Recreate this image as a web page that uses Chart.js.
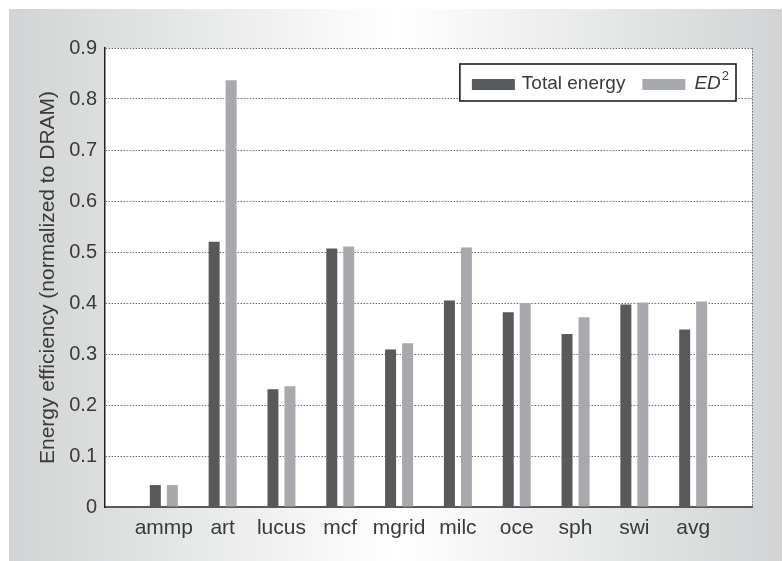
<!DOCTYPE html>
<html>
<head>
<meta charset="utf-8">
<script src="https://cdn.jsdelivr.net/npm/chart.js@4.4.0/dist/chart.umd.min.js"></script>
<style>
html,body{margin:0;padding:0;background:#ffffff;}
canvas{display:block;}
</style>
</head>
<body>
<canvas id="c" width="783" height="561"></canvas>
<script>
const categories = ['ammp','art','lucus','mcf','mgrid','milc','oce','sph','swi','avg'];
const totalEnergy = [0.043,0.520,0.231,0.507,0.309,0.405,0.382,0.339,0.397,0.348];
const ed2 = [0.043,0.837,0.237,0.511,0.321,0.509,0.400,0.372,0.401,0.403];
const yTicks = [0,0.1,0.2,0.3,0.4,0.5,0.6,0.7,0.8,0.9];
const seriesNames = ['Total energy','ED'];
const yTitle = 'Energy efficiency (normalized to DRAM)';

const FONT = '"Liberation Sans", Arial, Helvetica, sans-serif';
const TEXT = '#3a3a3a';
const DARK = '#58595b';
const LIGHT = '#a7a9ac';
const GRID = '#6d6e71';

const toPoints = arr => arr.map((v,i)=>({x:i+1,y:v}));

const bgPlugin = {
  id:'bg',
  beforeDraw(chart){
    const ctx = chart.ctx;
    const W = chart.width, H = chart.height;
    ctx.save();
    const g = ctx.createLinearGradient(9,0,W-1,0);
    g.addColorStop(0,'#d1d3d4');
    g.addColorStop(0.5,'#ffffff');
    g.addColorStop(1,'#d1d3d4');
    ctx.fillStyle = g;
    ctx.fillRect(9,9,W-10,H-9);
    const a = chart.chartArea;
    ctx.fillStyle = '#ffffff';
    ctx.fillRect(a.left,a.top,a.right-a.left,a.bottom-a.top);
    ctx.restore();
  }
};

const legendPlugin = {
  id:'customLegend',
  afterDraw(chart){
    const ctx = chart.ctx;
    const a = chart.chartArea;
    const ds = chart.data.datasets;
    ctx.save();
    const f = '19px ' + FONT;
    const fi = 'italic 19px ' + FONT;
    const fs = '13px ' + FONT;
    ctx.font = f;
    const w1 = ctx.measureText(ds[0].label).width;
    ctx.font = fi;
    const w2a = ctx.measureText(ds[1].label).width;
    ctx.font = fs;
    const w2b = ctx.measureText('2').width;
    const sw = 43, sh = 11;
    const boxW = 12 + sw + 7 + w1 + 17 + sw + 9 + w2a + w2b + 8;
    const right = a.right - 16;
    const left = right - boxW;
    const top = a.top + 16, bottom = top + 37;
    ctx.fillStyle = '#ffffff';
    ctx.fillRect(left,top,boxW,bottom-top);
    ctx.strokeStyle = '#231f20';
    ctx.lineWidth = 1.6;
    ctx.strokeRect(left,top,boxW,bottom-top);
    const cy = (top+bottom)/2 + 1;
    let x = left + 12;
    ctx.fillStyle = ds[0].backgroundColor;
    ctx.fillRect(x, cy - sh/2 + 1, sw, sh);
    x += sw + 7;
    ctx.fillStyle = TEXT;
    ctx.font = f;
    ctx.textBaseline = 'middle';
    ctx.textAlign = 'left';
    ctx.fillText(ds[0].label, x, cy);
    x += w1 + 17;
    ctx.fillStyle = ds[1].backgroundColor;
    ctx.fillRect(x, cy - sh/2 + 1, sw, sh);
    x += sw + 9;
    ctx.fillStyle = TEXT;
    ctx.font = fi;
    ctx.fillText(ds[1].label, x, cy);
    x += w2a + 1;
    ctx.font = fs;
    ctx.fillText('2', x, cy - 7);
    ctx.restore();
  }
};

new Chart(document.getElementById('c'), {
  type:'bar',
  data:{
    datasets:[
      {label:seriesNames[0], data:toPoints(totalEnergy), backgroundColor:DARK, borderWidth:0,
       categoryPercentage:0.578, barPercentage:0.647},
      {label:seriesNames[1], data:toPoints(ed2), backgroundColor:LIGHT, borderWidth:0,
       categoryPercentage:0.578, barPercentage:0.647}
    ]
  },
  options:{
    responsive:false,
    animation:false,
    devicePixelRatio:1,
    layout:{padding:{left:0,top:48,right:31,bottom:0}},
    plugins:{legend:{display:false},tooltip:{enabled:false}},
    scales:{
      x:{
        type:'linear',
        min:0,max:categories.length+1,
        offset:false,
        afterBuildTicks:s=>{ s.ticks = Array.from({length:categories.length+2},(_,i)=>({value:i})); },
        afterFit:s=>{ s.height = 54; },
        ticks:{
          autoSkip:false,maxRotation:0,minRotation:0,padding:9,
          color:TEXT,font:{family:FONT,size:21},
          callback:v=> (v>=1 && v<=categories.length) ? categories[v-1] : ''
        },
        grid:{
          offset:false,
          drawTicks:false,
          color:c=> (c.tick && c.tick.value===categories.length+1) ? GRID : 'rgba(0,0,0,0)',
          lineWidth:1
        },
        border:{display:true,color:'#58595b',width:2,dash:[1.5,1.5]}
      },
      y:{
        min:0,max:0.9,
        afterBuildTicks:s=>{ s.ticks = yTicks.map(v=>({value:v})); },
        afterFit:s=>{ s.width = 105; },
        ticks:{
          padding:8,color:TEXT,font:{family:FONT,size:20},
          callback:v=> v===0 ? '0' : Number(v).toFixed(1)
        },
        grid:{
          drawTicks:false,
          color:c=> (c.tick && c.tick.value===0) ? 'rgba(0,0,0,0)' : GRID,
          lineWidth:1
        },
        border:{display:true,color:'#231f20',width:1.5,dash:[1.5,1.5]},
        title:{display:true,text:yTitle,color:TEXT,font:{family:FONT,size:21},padding:{top:36,bottom:0}}
      }
    }
  },
  plugins:[bgPlugin,legendPlugin]
});
</script>
</body>
</html>
